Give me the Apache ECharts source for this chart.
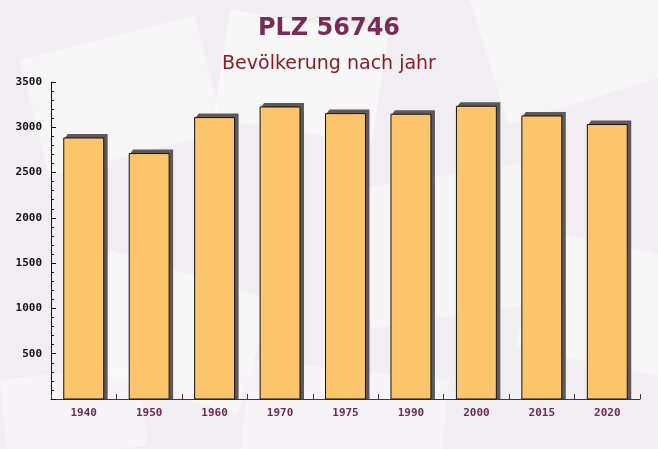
<!DOCTYPE html>
<html>
<head>
<meta charset="utf-8">
<script src="https://cdn.jsdelivr.net/npm/echarts@6/dist/echarts.min.js"></script>
<style>html,body{margin:0;padding:0;background:#f2f0f2;}#c{width:658px;height:449px;}</style>
</head>
<body>
<div id="c"></div>
<script>
var categories = ['1940','1950','1960','1970','1975','1990','2000','2015','2020'];
var population = [2882, 2710, 3107, 3224, 3151, 3144, 3232, 3125, 3030];
var titleText = 'PLZ 56746';
var subtitleText = 'Bevölkerung nach jahr';

var chart = echarts.init(document.getElementById('c'), null, {renderer: 'canvas'});

function envelope(x, y, w, h, rot, op) {
  return {
    type: 'rect', x: x, y: y, rotation: rot, originX: 0, originY: 0,
    shape: {x: 0, y: 0, width: w, height: h},
    style: {fill: '#ffffff', opacity: op}, silent: true, z: -10
  };
}

function renderBar(params, api) {
  var top = api.coord([api.value(0), api.value(1)]);
  var base = api.coord([api.value(0), 0]);
  var band = api.size([1, 0])[0];
  var w = band * 0.61;
  var left = top[0] - w / 2;
  var right = top[0] + w / 2;
  var d = 4;
  return {
    type: 'group',
    children: [
      {
        type: 'polygon',
        shape: {points: [[left + 1, top[1]], [left + d, top[1] - d], [right + d, top[1] - d], [right + d, base[1]], [right, base[1]], [right, top[1]]]},
        style: {fill: '#5e585b'}
      },
      {
        type: 'rect',
        shape: {x: left, y: top[1], width: w, height: base[1] - top[1]},
        style: {fill: '#fcc56b', stroke: '#111111', lineWidth: 1}
      }
    ]
  };
}

chart.setOption({
  backgroundColor: '#f1eef1',
  animation: false,
  graphic: [
    envelope(20, 60, 180, 120, 0.25, 0.45),
    envelope(230, 10, 160, 110, -0.15, 0.5),
    envelope(470, 0, 190, 130, 0.3, 0.45),
    envelope(110, 250, 170, 120, -0.3, 0.45),
    envelope(350, 190, 200, 140, 0.15, 0.4),
    envelope(540, 230, 150, 120, -0.2, 0.45),
    envelope(0, 380, 140, 80, 0.1, 0.35),
    envelope(250, 360, 200, 100, -0.1, 0.35)
  ],
  title: [
    {text: titleText, left: 'center', top: 12,
     textStyle: {fontFamily: 'DejaVu Sans', fontWeight: 'bold', fontSize: 24, color: '#772c56'}},
    {text: subtitleText, left: 'center', top: 50,
     textStyle: {fontFamily: 'DejaVu Sans', fontWeight: 'normal', fontSize: 19, color: '#8a1c22'}}
  ],
  grid: {left: 51, right: 18, top: 82, bottom: 50, containLabel: false},
  xAxis: {
    type: 'category',
    data: categories,
    axisLine: {lineStyle: {color: '#5a2a44', width: 1}},
    axisTick: {show: true, inside: true, length: 5, lineStyle: {color: '#5a2a44'}},
    axisLabel: {fontFamily: 'DejaVu Sans Mono', fontWeight: 'bold', fontSize: 11, color: '#6b2d50', margin: 9}
  },
  yAxis: {
    type: 'value',
    min: 0, max: 3500, interval: 500,
    axisLine: {show: true, lineStyle: {color: '#111111', width: 1}},
    axisTick: {show: true, inside: true, length: 5, lineStyle: {color: '#111111'}},
    minorTick: {show: true, splitNumber: 5, length: 3, lineStyle: {color: '#111111'}},
    splitLine: {show: false},
    axisLabel: {fontFamily: 'DejaVu Sans Mono', fontWeight: 'bold', fontSize: 11, color: '#111111', margin: 9,
      formatter: function (v) { return v === 0 ? '' : String(v); }}
  },
  series: [{
    type: 'custom',
    renderItem: renderBar,
    encode: {x: 0, y: 1},
    data: population.map(function (v, i) { return [i, v]; })
  }]
});
</script>
</body>
</html>
